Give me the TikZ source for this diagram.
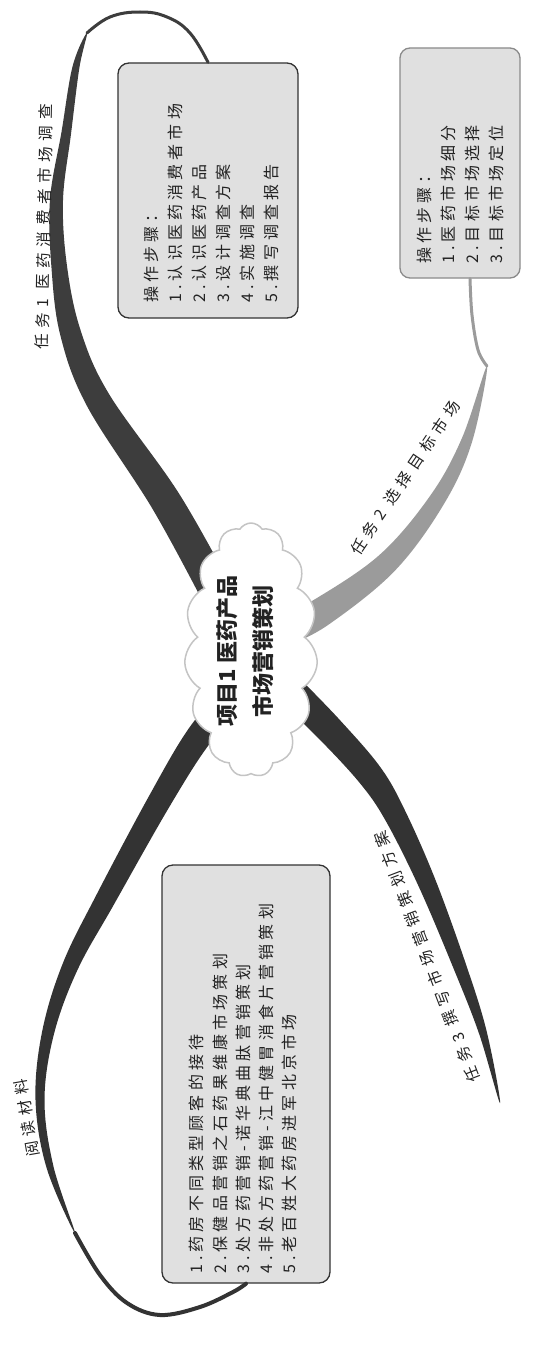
\documentclass[tikz,border=0pt]{standalone}
\usepackage{fontspec}
\usetikzlibrary{shapes.symbols}
\newfontfamily\cjk[LetterSpace=26]{Noto Sans CJK SC}
\newfontfamily\cjklbl[LetterSpace=37]{Noto Sans CJK SC}
\newfontfamily\cjkhead{Noto Sans CJK SC}
\definecolor{bandA}{HTML}{3D3D3D}
\definecolor{bandC}{HTML}{333333}
\definecolor{bandB}{HTML}{9B9B9B}
\definecolor{boxfill}{HTML}{E0E0E0}
\definecolor{boxline}{HTML}{333333}
\definecolor{boxlineB}{HTML}{8A8A8A}
\definecolor{cloudline}{HTML}{C4C4C4}
\definecolor{textc}{HTML}{222222}
\tikzset{
  boxshape/.style={rounded corners=11pt, line width=1.3pt, fill=boxfill, inner sep=0pt},
  steptext/.style={font=\cjk\fontsize{16}{24}\selectfont, rotate=90, anchor=north west, inner sep=0pt, align=left, text=textc},
  lbl/.style={font=\cjklbl\fontsize{15.5}{18}\selectfont, inner sep=0pt, text=textc},
  thinlink/.style={line width=3pt, line cap=round, line join=round},
}
\begin{document}
\begin{tikzpicture}[x=1pt,y=-1pt]
\useasboundingbox (0,0) rectangle (533,1351);
\fill[white] (0,0) rectangle (533,1351);

% boxes (shapes) first so anchors exist
\node[boxshape, draw=boxline, minimum width=180pt, minimum height=255pt] (box1) at (208,190.5) {};
\node[boxshape, draw=boxlineB, minimum width=120pt, minimum height=230pt, rounded corners=10pt] (box2) at (460,163) {};
\node[boxshape, draw=boxline, minimum width=168pt, minimum height=418pt] (box4) at (246,1074) {};

% branch 1
\coordinate (b1tip) at (87,33);
\fill[bandA] plot[smooth, tension=0.6] coordinates {(201,598) (152,508) (87,406) (60.5,336) (51.5,268) (50,199.6) (61.5,132) (72.6,66.3) (b1tip) (79.4,67.7) (71,134) (63,200.4) (67,266) (80.5,330) (109,394) (178,492) (229,582)} -- cycle;
\draw[bandA, thinlink] plot[smooth, tension=0.7] coordinates {(b1tip) (110,17) (140,12) (167,17) (190,33) (box1.north)};

% branch 2
\coordinate (b2tip) at (487,366);
\fill[bandB] plot[smooth, tension=0.6] coordinates {(272,620.5) (312,601) (379.4,555) (430.3,495.6) (462,438) (b2tip) (472,442) (443.7,504.4) (394.6,571) (328,625) (288,645.5)} -- cycle;
\draw[bandB, thinlink] plot[smooth, tension=0.6] coordinates {(b2tip) (478,350) (472,315) ([xshift=10pt]box2.south)};

% branch 3
\coordinate (b3tip) at (500,1103);
\fill[bandC] plot[smooth, tension=0.6] coordinates {(300.6,679.4) (340.2,720.4) (380.3,767.1) (404.7,809.9) (435.3,879.5) (466.1,964.7) (486.8,1031.9) (b3tip) (479.2,1034.1) (453.9,969.3) (418.7,886.5) (385.3,820.1) (359.7,782.9) (319.8,739.6) (279.4,700.6)} -- cycle;

% branch 4
\coordinate (b4tip) at (75,1233);
\fill[bandC] plot[smooth, tension=0.6] coordinates {(229.5,680.7) (189.5,727.4) (150,794.25) (96.2,895.3) (62.6,963.9) (42.1,1031.7) (35.5,1100) (46.6,1167.9) (b4tip) (53.4,1166.1) (44.5,1100) (53.9,1034.3) (77.4,970.1) (113.8,904.7) (170,805.75) (210.5,742.6) (250.5,699.3)} -- cycle;
\draw[bandC, line width=4pt, line cap=round, line join=round] plot[smooth, tension=0.6] coordinates {(b4tip) (100,1275) (127,1303) (160,1315) (200,1307) (233,1292) (box4.south)};

% central cloud
\node[cloud, cloud puffs=15, cloud puff arc=115, cloud ignores aspect, minimum width=133pt, minimum height=254pt, draw=cloudline, line width=1.5pt, fill=white] (center) at (251,650) {};
\node[font=\cjkhead\bfseries\fontsize{22}{36}\selectfont, rotate=90, align=center, text=textc, inner sep=0pt] (ctext) at (245,651) {项目1 医药产品\\市场营销策划};

% box texts
\node[steptext] (t1) at (144,303) {操作步骤：\\1.认识医药消费者市场\\2.认识医药产品\\3.设计调查方案\\4.实施调查\\5.撰写调查报告};
\node[steptext] (t2) at (417,264) {操作步骤：\\1.医药市场细分\\2.目标市场选择\\3.目标市场定位};
\node[steptext, font=\cjk\fontsize{16}{23.3}\selectfont] (t4) at (189,1274) {1.药房不同类型顾客的接待\\2.保健品营销之石药果维康市场策划\\3.处方药营销-诺华典曲肽营销策划\\4.非处方药营销-江中健胃消食片营销策划\\5.老百姓大药房进军北京市场};

% branch labels
\node[lbl, rotate=89] (l1) at (44,227) {任务1 医药消费者市场调查};
\node[lbl, rotate=56] (l2) at (405,478) {任务2 选择目标市场};
\node[lbl, rotate=111] (l3) at (427,957) {任务3 撰写市场营销策划方案};
\node[lbl, rotate=100] (l4) at (27,1118) {阅读材料};
\end{tikzpicture}
\end{document}
